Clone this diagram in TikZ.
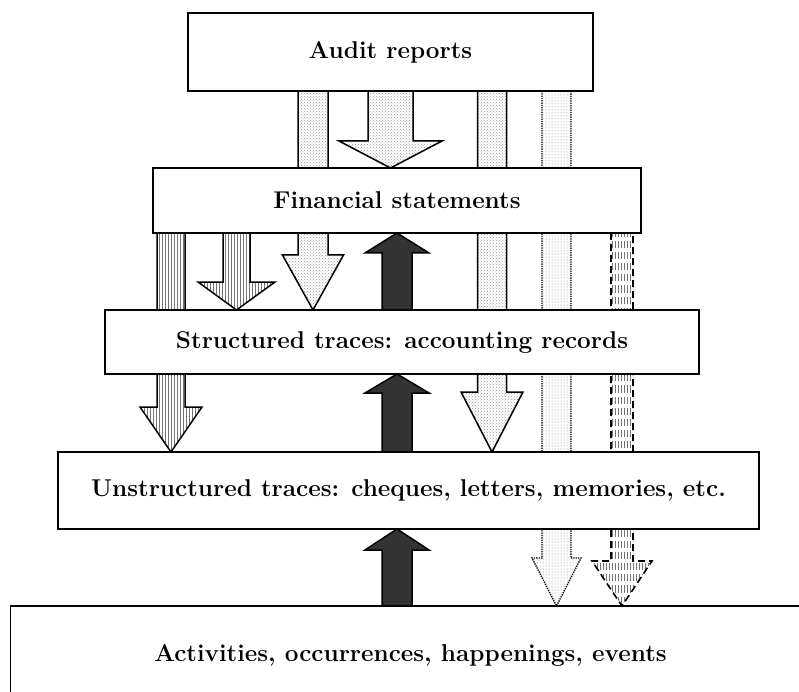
\documentclass[tikz,border=0pt]{standalone}
\usepackage{fontspec}
\usetikzlibrary{patterns,calc}
\pgfdeclarelayer{background}
\pgfsetlayers{background,main}

% block arrow: style, x, from, to, shaft half width, head half width, head length
\newcommand{\blockarrow}[7]{%
  \draw[#1] let \p1=(#2,0 |- #3), \p2=(#2,0 |- #4), \p3=($(\p2)!#7pt!(\p1)$) in
    (\x1-#5pt,\y1) -- (\x1-#5pt,\y3) -- (\x1-#6pt,\y3) -- (\x2,\y2)
    -- (\x1+#6pt,\y3) -- (\x1+#5pt,\y3) -- (\x1+#5pt,\y1) -- cycle;}

\begin{document}
\begin{tikzpicture}[x=1pt, y=-1pt,
  box/.style={draw, line width=1.8pt, fill=white, inner sep=0pt, outer sep=0pt,
    font=\bfseries\fontsize{24.3}{28}\selectfont},
  stipple/.style={draw, line width=1.5pt, pattern=crosshatch dots, pattern color=gray!80},
  hatch/.style={draw, line width=1.5pt, pattern=vertical lines, pattern color=gray!90!black},
  solidup/.style={draw, line width=1.5pt, fill=black!80},
  dotstipple/.style={draw, line width=1.3pt, densely dotted, pattern=dots, pattern color=gray},
  dashhatch/.style={draw, line width=1.6pt, dash pattern=on 7pt off 4pt,
    pattern=vertical lines, pattern color=gray!90!black}]
  \useasboundingbox (0,0) rectangle (799,692);
  \clip (0,0) rectangle (799,692);

  % Levels, top to bottom
  \node[box, minimum width=405, minimum height=78] (aud) at (390.5,52) {Audit reports};
  \node[box, minimum width=488, minimum height=65] (fin) at (397,200.5) {Financial statements};
  \node[box, minimum width=594, minimum height=64] (str) at (402,342) {Structured traces: accounting records};
  \node[box, minimum width=701, minimum height=77] (uns) at (408.5,490.5) {Unstructured traces: cheques, letters, memories, etc.};
  \node[box, minimum width=800, minimum height=98] (act) at (410.5,655) {Activities, occurrences, happenings, events};

  \begin{pgfonlayer}{background}
    % Long arrows running behind the boxes
    \blockarrow{stipple}{313}{aud.south}{str.north}{15}{30.5}{55}
    \blockarrow{stipple}{492}{aud.south}{uns.north}{14.5}{31}{60}
    \blockarrow{dotstipple}{556.5}{aud.south}{act.north}{14.5}{24.5}{48}
    \blockarrow{dashhatch}{622}{fin.south}{act.north}{11}{30}{45}
    \blockarrow{hatch}{171}{fin.south}{uns.north}{14}{31}{45}

    % Short arrows between neighbouring levels
    \blockarrow{stipple}{390.5}{aud.south}{fin.north}{22.5}{51.5}{27}
    \blockarrow{hatch}{236.5}{fin.south}{str.north}{13.5}{38.5}{28}
    \blockarrow{solidup}{397}{str.north}{fin.south}{15}{32}{20}
    \blockarrow{solidup}{397}{uns.north}{str.south}{15}{32}{19}
    \blockarrow{solidup}{397}{act.north}{uns.south}{15}{32}{21}
  \end{pgfonlayer}
\end{tikzpicture}
\end{document}
